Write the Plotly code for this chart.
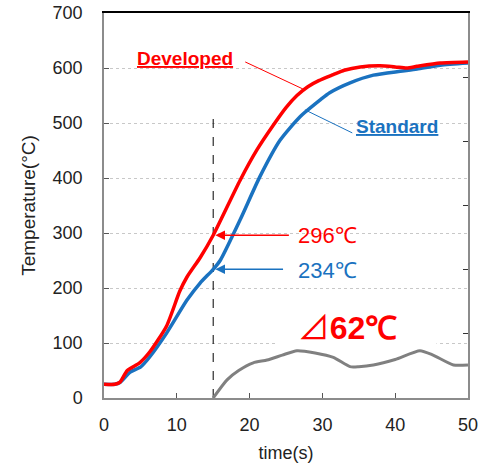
import plotly.graph_objects as go

# Developed (red)
t_dev = [0, 1.5, 2.2, 3.2, 4.9, 6.3, 8.6, 10.4, 11.4, 13.2, 15, 18.7, 21, 23.2, 25, 26.5, 28, 29.5, 31.5, 33, 35.2, 37.9, 40, 41.6, 43, 46.2, 50]
temp_dev = [25, 25, 29, 50, 64, 84, 131, 194, 220, 255, 296, 396, 451, 495, 528, 550, 566, 577, 588, 596, 602, 604, 602, 600, 603, 609, 611]

# Standard (blue)
t_std = [0, 1.5, 2.2, 3.6, 5, 6.3, 8.6, 11.4, 13.2, 15, 16, 18.7, 21.4, 24.2, 26.9, 29.7, 31, 33.8, 37, 40.7, 43, 46.2, 50]
temp_std = [25, 25, 28, 47, 56, 75, 118, 178, 209, 234, 251, 324, 402, 469, 511, 542, 555, 573, 587, 594, 598, 605, 609]

# Gray curve
t_gray = [15, 16.9, 18.5, 20.5, 22.4, 24.5, 26.5, 29, 31.5, 33.8, 35, 37, 40, 43.4, 45.2, 48, 50]
v_gray = [0, 33, 50, 64, 69, 78, 86, 82, 74, 57, 57, 60, 70, 86, 78, 60, 60]

marker_t = 15
marker_top = 510
val_dev = 296
val_std = 234
delta = 62

x_ticks = [0, 10, 20, 30, 40, 50]
y_ticks = [0, 100, 200, 300, 400, 500, 600, 700]

RED = "#ff0000"
BLUE = "#1a72c0"
GRAY = "#808080"
FONT = "Liberation Sans, Arial, sans-serif"
CJK = "Noto Sans CJK JP"

fig = go.Figure()
fig.add_trace(go.Scatter(x=[marker_t, marker_t], y=[0, marker_top], mode="lines",
                         line=dict(color="black", width=1, dash="dash"), hoverinfo="skip"))
fig.add_trace(go.Scatter(x=t_gray, y=v_gray, mode="lines", line=dict(color=GRAY, width=3, shape="spline", smoothing=0.6)))
fig.add_trace(go.Scatter(x=t_std, y=temp_std, mode="lines", line=dict(color=BLUE, width=3.5, shape="spline", smoothing=0.6)))
fig.add_trace(go.Scatter(x=t_dev, y=temp_dev, mode="lines", line=dict(color=RED, width=3.5, shape="spline", smoothing=0.6)))
# secondary axes just for the frame / right-side ticks
fig.add_trace(go.Scatter(x=[0], y=[0], yaxis="y2", xaxis="x2", mode="markers", marker=dict(opacity=0), hoverinfo="skip"))

# leader lines
fig.add_trace(go.Scatter(x=[19.4, 27.3], y=[611, 562], mode="lines", line=dict(color=RED, width=1)))
fig.add_trace(go.Scatter(x=[34.1, 27.6], y=[482, 524], mode="lines", line=dict(color=BLUE, width=1)))

ann = []
ann.append(dict(x=11.1, y=618, text="<b><u>Developed</u></b>", showarrow=False,
                font=dict(color=RED, size=19, family=FONT)))
ann.append(dict(x=40.2, y=493, text="<b><u>Standard</u></b>", showarrow=False,
                font=dict(color=BLUE, size=19, family=FONT)))
ann.append(dict(x=marker_t + 0.3, y=val_dev, ax=25.6, ay=val_dev, axref="x", ayref="y",
                showarrow=True, arrowhead=2, arrowsize=1.2, arrowwidth=1.6, arrowcolor=RED, text=""))
ann.append(dict(x=marker_t + 0.3, y=val_std, ax=24.8, ay=val_std, axref="x", ayref="y",
                showarrow=True, arrowhead=2, arrowsize=1.2, arrowwidth=1.6, arrowcolor=BLUE, text=""))
ann.append(dict(x=26.4, y=val_dev, xanchor="left", text=f"{val_dev}℃", showarrow=False,
                font=dict(color=RED, size=22, family=FONT)))
ann.append(dict(x=26.4, y=val_std - 2, xanchor="left", text=f"{val_std}℃", showarrow=False,
                font=dict(color=BLUE, size=22, family=FONT)))
ann.append(dict(x=34.75, y=133, xanchor="center",
                text=f"<span style='font-family:{CJK};font-weight:normal'>⊿</span><b>{delta}℃</b>&nbsp;&nbsp;",
                showarrow=False, width=159, align="center", bgcolor="white", borderpad=0,
                font=dict(color=RED, size=32, family=FONT)))

fig.update_layout(
    width=481, height=466,
    margin=dict(l=104, r=13, t=13, b=68, autoexpand=False),
    paper_bgcolor="white", plot_bgcolor="white",
    showlegend=False,
    font=dict(family=FONT, color="#222222", size=17),
    annotations=ann,
    xaxis=dict(range=[0, 50], tickvals=x_ticks, showgrid=False, zeroline=False, automargin=False,
               showline=True, linecolor="#8c8c8c", linewidth=1.5,
               ticks="inside", ticklen=5, tickcolor="#555555",
               tickfont=dict(size=18), ticklabelstandoff=10,
               title=dict(text="time(s)", font=dict(size=18), standoff=12)),
    xaxis2=dict(range=[0, 50], overlaying="x", side="top", showline=True, linecolor="black",
                linewidth=1.5, showticklabels=False, showgrid=False, zeroline=False, ticks="", automargin=False),
    yaxis=dict(range=[0, 700], tickvals=y_ticks, showgrid=True, gridcolor="#c8c8c8", griddash="dot",
               gridwidth=1, zeroline=False, showline=True, linecolor="#8c8c8c", linewidth=1.5,
               ticks="inside", ticklen=5, tickcolor="#555555", automargin=False,
               tickfont=dict(size=18), ticklabelstandoff=16,
               title=dict(text="Temperature(°C)", font=dict(size=19), standoff=12)),
    yaxis2=dict(range=[0, 6], dtick=1, overlaying="y", side="right", showline=True,
                linecolor="#8c8c8c", linewidth=1.5, ticks="inside", ticklen=5, tickcolor="#333333",
                showticklabels=False, showgrid=False, zeroline=False, automargin=False),
)

fig.write_html("out.html")
